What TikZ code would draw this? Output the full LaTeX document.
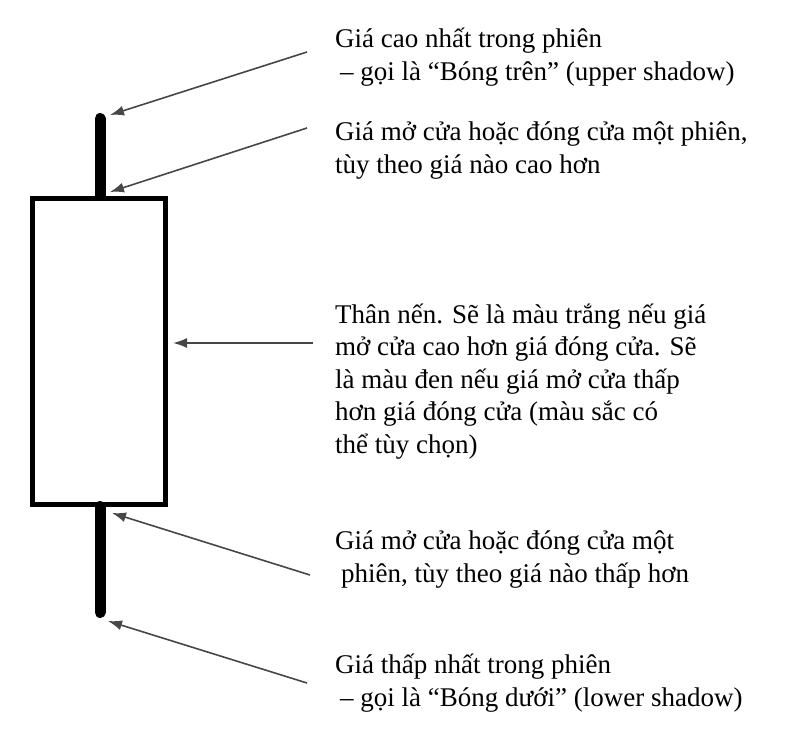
\documentclass[tikz,border=0pt]{standalone}
\usepackage{fontspec}
\setmainfont{Liberation Serif}
\usetikzlibrary{arrows.meta}

\begin{document}
\begin{tikzpicture}[x=1pt, y=-1pt, >={Latex[length=14pt,width=10pt]},
    note/.style={font=\fontsize{27}{32.5}\selectfont, align=left, inner sep=0pt, anchor=base west},
    pointer/.style={->, draw=black!72, line width=1.6pt},
    wick/.style={line width=11pt, line cap=round}]
    \useasboundingbox (0,0) rectangle (787,744);
    % candle
    \draw[line width=5pt, fill=white] (32.5,198) rectangle (165.5,504);
    \draw[wick] (100,118.5) -- (100,195.5);
    \draw[wick] (100,506.5) -- (100,612.5);
    % texts (anchored at the last line)
    \node[note] (hiTxt) at (335,80) {Giá cao nhất trong phiên\\\hspace*{5pt}– gọi là “Bóng trên” (upper shadow)};
    \node[note] (topTxt) at (335,173) {Giá mở cửa hoặc đóng cửa một phiên,\\tùy theo giá nào cao hơn};
    \node[note] (bodyTxt) at (335,453) {Thân nến. Sẽ là màu trắng nếu giá\\mở cửa cao hơn giá đóng cửa. Sẽ\\là màu đen nếu giá mở cửa thấp\\hơn giá đóng cửa (màu sắc có\\thể tùy chọn)};
    \node[note] (botTxt) at (335,582) {Giá mở cửa hoặc đóng cửa một\\\hspace*{6pt}phiên, tùy theo giá nào thấp hơn};
    \node[note] (loTxt) at (335,706) {Giá thấp nhất trong phiên\\\hspace*{5pt}– gọi là “Bóng dưới” (lower shadow)};
    % arrow ends
    \coordinate (hiTail) at (307,52);   \coordinate (hiTip) at (110,115);
    \coordinate (topTail) at (307,128); \coordinate (topTip) at (110,192);
    \coordinate (bodyTail) at (313,343); \coordinate (bodyTip) at (173,343);
    \coordinate (botTail) at (310,575); \coordinate (botTip) at (112,513);
    \coordinate (loTail) at (307,683);  \coordinate (loTip) at (108,621);
    \foreach \p in {hi,top,body,bot,lo}
        \draw[pointer] (\p Tail) -- (\p Tip);
\end{tikzpicture}
\end{document}
